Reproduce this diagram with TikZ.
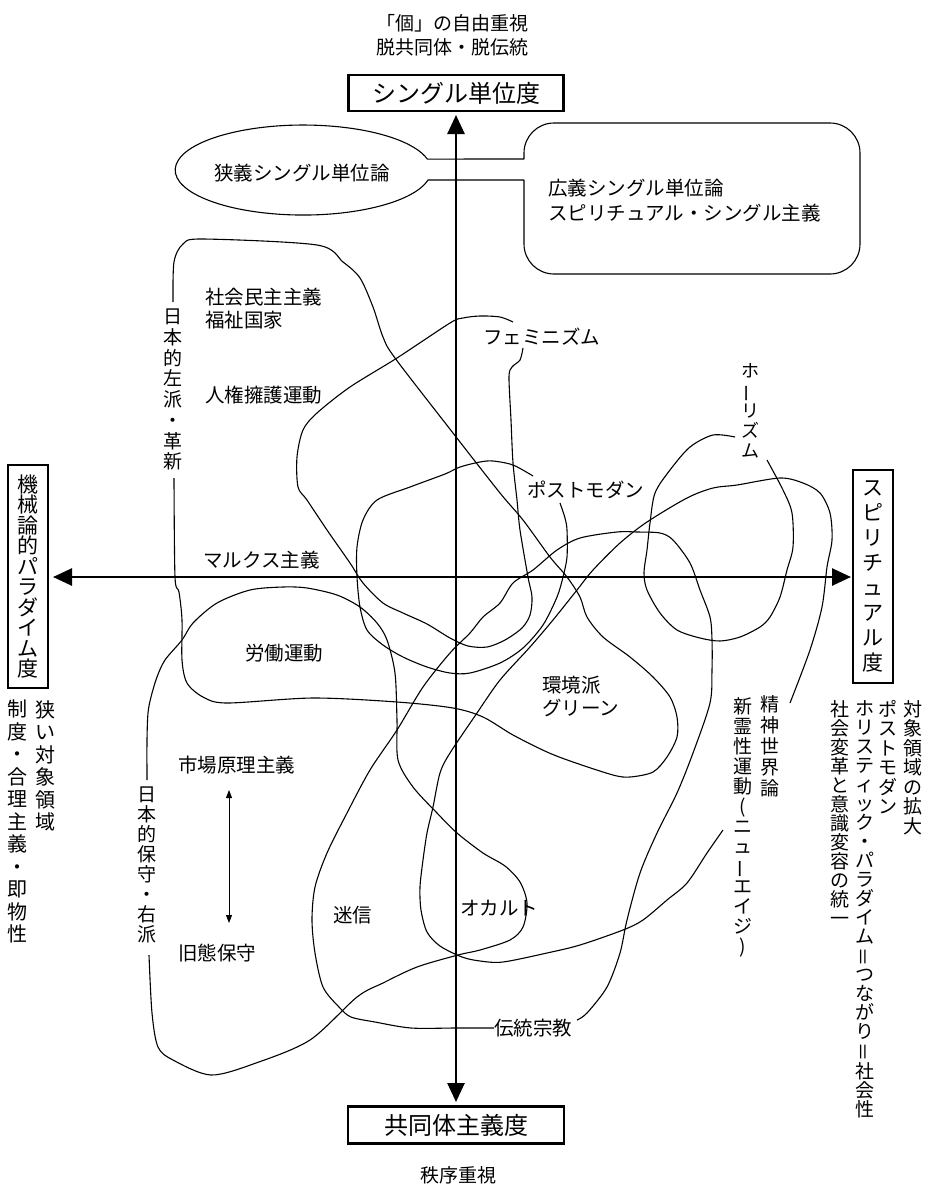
\documentclass[tikz,border=0pt]{standalone}
\usepackage{fontspec}
\setmainfont{Noto Sans CJK JP}
\usepackage{graphicx}
\usetikzlibrary{arrows.meta}
\newcommand{\rotch}[1]{\rotatebox[origin=c]{90}{#1}}
\begin{document}
\begin{tikzpicture}[x=1pt,y=-1pt,
  lbl/.style={inner sep=0pt, font=\fontsize{19.5}{23}\selectfont},
  vlbl/.style={inner sep=0pt, align=center, anchor=north},
  axbox/.style={draw, line width=2.2pt, inner sep=0pt, fill=white},
  axisline/.style={line width=2.6pt, {Triangle[length=19pt,width=17pt]}-{Triangle[length=19pt,width=17pt]}},
  region/.style={line width=1.1pt},
  thinarrow/.style={line width=0.8pt, {Triangle[length=8pt,width=6pt]}-{Triangle[length=8pt,width=6pt]}}
]
\useasboundingbox (0,0) rectangle (929,1187);

% ---------- top / bottom notes ----------
\node[lbl, align=center, font=\fontsize{19}{24}\selectfont] (topnote) at (452,35) {「個」の自由重視\\脱共同体・脱伝統};
\node[lbl, font=\fontsize{19}{22}\selectfont] (order) at (458,1175) {秩序重視};

% ---------- narrow / broad single theory ----------
\draw[region] (524,180) -- (428,180) arc[start angle=12.8, end angle=345.9, x radius=128, y radius=45] -- (524,159);
\draw[region, rounded corners=30pt] (524,159) -- (524,123) -- (860,123) -- (860,274) -- (524,274) -- (524,180);
\node[lbl] (narrow) at (302,173) {狭義シングル単位論};
\node[lbl, anchor=west, align=left, font=\fontsize{19.5}{25}\selectfont] (broad) at (548,200.5) {広義シングル単位論\\スピリチュアル・シングル主義};

% ---------- region curves ----------
% A: left / reform
\draw[region] plot[smooth, tension=0.5] coordinates {(174,478) (175,577) (179,592) (182,620) (182,660) (187,683) (203,697) (227,703) (313,698) (397,702) (453,708) (483,717) (513,735) (547,752) (573,762) (613,775) (630,777) (653,772) (667,757) (677,737) (677,717) (670,697) (653,677) (630,657) (603,637) (587,617) (580,597) (567,577) (550,557) (523,520) (500,493) (453,433) (395,358) (383,337) (373,307) (360,278) (343,262) (317,245) (203,239) (183,244) (174,262) (173,302)};
% C: feminism
\draw[region] plot[smooth, tension=0.5] coordinates {(523,348) (520,360) (512,367) (509,377) (511,420) (513,463) (517,500) (520,530) (528,577) (532,597) (530,615) (522,628) (505,640) (487,647) (468,646) (450,638) (427,624) (403,613) (383,603) (363,583) (350,563) (327,530) (307,500) (298,487) (297,457) (303,430) (317,413) (350,387) (397,358) (450,323) (463,318) (480,316) (500,317) (513,322)};
% D: postmodern
\draw[region] plot[smooth, tension=0.5] coordinates {(533,476) (513,465) (493,461) (480,462) (460,467) (445,474) (410,487) (377,500) (363,520) (357,547) (357,577) (360,607) (367,630) (383,645) (403,657) (427,667) (450,673) (470,673) (500,663) (523,648) (543,625) (557,597) (563,577) (567,557) (567,530) (565,518) (560,503)};
% E: right / labour
\draw[region] plot[smooth, tension=0.5] coordinates {(147,780) (147,740) (148,713) (151,697) (157,677) (165,660) (182,640) (193,623) (217,603) (250,590) (283,587) (307,588) (337,595) (360,607) (377,623) (387,640) (395,673) (397,720) (398,760) (413,787) (437,813) (457,833) (483,853) (505,866) (520,882) (527,903) (523,927) (510,940) (480,950) (458,955) (417,967) (383,983) (357,997) (310,1040) (256,1063) (211,1075) (173,1060) (158,1047) (152,1013) (149,955)};
% F: spiritual world view
\draw[region] plot[smooth, tension=0.5] coordinates {(723,830) (707,853) (687,883) (667,900) (643,920) (623,930) (580,945) (547,953) (503,962) (480,961) (462,957) (440,946) (427,932) (421,910) (420,887) (423,860) (427,833) (433,807) (440,773) (450,753) (477,713) (500,680) (530,647) (553,620) (577,590) (593,570) (620,543) (647,522) (687,498) (713,488) (737,485) (780,478) (803,483) (820,493) (830,513) (832,540) (827,567) (822,607) (810,650) (790,703)};
% G: traditional religion
\draw[region] plot[smooth, tension=0.5] coordinates {(494,1028) (456,1028) (411,1028) (375,1022) (351,1017) (339,1007) (323,987) (315,953) (312,920) (315,887) (327,853) (347,813) (370,770) (397,730) (423,687) (450,653) (470,633) (483,617) (500,603) (513,583) (533,570) (557,550) (580,538) (617,532) (637,532) (660,533) (673,540) (690,563) (700,590) (710,617) (712,640) (712,670) (710,703) (693,753) (677,793) (657,833) (640,873) (627,920) (620,953) (607,987) (587,1013) (577,1020)};
% H: holism
\draw[region] plot[smooth, tension=0.5] coordinates {(735,437) (713,435) (690,447) (670,470) (655,493) (650,523) (647,550) (644,573) (647,590) (660,613) (677,630) (700,638) (720,641) (740,637) (760,627) (770,617) (780,597) (787,570) (793,547) (792,513) (783,490) (767,460)};

% ---------- axes ----------
\coordinate (axT) at (456,115);
\coordinate (axB) at (456,1102);
\coordinate (axL) at (53,577);
\coordinate (axR) at (851,577);
\draw[axisline] (axT) -- (axB);
\draw[axisline] (axL) -- (axR);

\node[axbox, minimum width=215pt, minimum height=36pt, font=\fontsize{24}{26}\selectfont] (single) at (456,93) {シングル単位度};
\node[axbox, minimum width=216pt, minimum height=37pt, font=\fontsize{24}{26}\selectfont] (community) at (456,1125) {共同体主義度};
\node[axbox, minimum width=40pt, minimum height=223pt, align=center, font=\fontsize{21}{20.5}\selectfont] (mech) at (28,576.5) {機\\械\\論\\的\\パ\\ラ\\ダ\\イ\\ム\\度};
\node[axbox, minimum width=40pt, minimum height=213pt, align=center, font=\fontsize{21}{25}\selectfont] (spirit) at (873,576.5) {ス\\ピ\\リ\\チ\\ュ\\ア\\ル\\度};

% ---------- side columns ----------
\node[vlbl, font=\fontsize{20}{22.5}\selectfont] (narrowfield) at (45,700) {狭\\い\\対\\象\\領\\域};
\node[vlbl, font=\fontsize{20}{22.5}\selectfont] (rational) at (18,700) {制\\度\\・\\合\\理\\主\\義\\・\\即\\物\\性};
\node[vlbl, font=\fontsize{19}{19.5}\selectfont] (expand) at (913,700) {対\\象\\領\\域\\の\\拡\\大};
\node[vlbl, font=\fontsize{19}{19.5}\selectfont] (pmcol) at (888,700) {ポ\\ス\\ト\\モ\\ダ\\ン};
\node[vlbl, font=\fontsize{19}{19}\selectfont] (holistic) at (865,700) {ホ\\リ\\ス\\テ\\ィ\\ッ\\ク\\・\\パ\\ラ\\ダ\\イ\\ム\\\rotch{＝}\\つ\\な\\が\\り\\\rotch{＝}\\社\\会\\性};
\node[vlbl, font=\fontsize{19}{19}\selectfont] (unity) at (840,700) {社\\会\\変\\革\\と\\意\\識\\変\\容\\の\\統\\一};

% ---------- labels inside ----------
\node[vlbl, font=\fontsize{19}{20.7}\selectfont] (leftwing) at (173,309) {日\\本\\的\\左\\派\\・\\革\\新};
\node[vlbl, font=\fontsize{19}{20}\selectfont] (rightwing) at (147,787) {日\\本\\的\\保\\守\\・\\右\\派};
\node[vlbl, font=\fontsize{18}{20}\selectfont] (holism) at (750,363) {ホ\\\rotch{ー}\\リ\\ズ\\ム};
\node[vlbl, font=\fontsize{19}{21}\selectfont] (seishin) at (770,695) {精\\神\\世\\界\\論};
\node[vlbl, font=\fontsize{19}{20}\selectfont] (newage) at (743,697) {新\\霊\\性\\運\\動\\(\\ニ\\ュ\\\rotch{ー}\\エ\\イ\\ジ\\)};

\node[lbl, anchor=west, align=left] (socdem) at (205,308.5) {社会民主主義\\福祉国家};
\node[lbl, anchor=west] (rights) at (205,395) {人権擁護運動};
\node[lbl, anchor=west] (marx) at (203,560) {マルクス主義};
\node[lbl, anchor=west] (labour) at (245,653) {労働運動};
\node[lbl, anchor=west] (market) at (178,765) {市場原理主義};
\node[lbl, anchor=west] (oldcons) at (178,953) {旧態保守};
\node[lbl, anchor=west] (meishin) at (333,915) {迷信};
\node[lbl, anchor=west] (occult) at (460,908) {オカルト};
\node[lbl, anchor=west] (trad) at (494,1028) {伝統宗教};
\node[lbl, anchor=west, align=left] (green) at (542,696.5) {環境派\\グリーン};
\node[lbl, anchor=west] (femin) at (483,337) {フェミニズム};
\node[lbl, anchor=west] (postmod) at (527,490) {ポストモダン};

\coordinate (arT) at (229,790);
\coordinate (arB) at (229,923);
\draw[thinarrow] (arT) -- (arB);
\end{tikzpicture}
\end{document}
